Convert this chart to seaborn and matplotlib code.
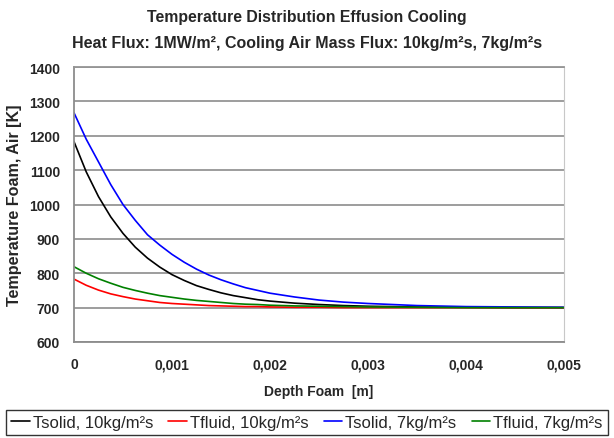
import numpy as np
import pandas as pd
import matplotlib
matplotlib.use("Agg")
import matplotlib.pyplot as plt
import seaborn as sns

# ==============================
#       Data
# ==============================

depth = [0, 0.000125, 0.00025, 0.000375, 0.0005, 0.000625, 0.00075, 0.000875,
         0.001, 0.001125, 0.00125, 0.001375, 0.0015, 0.001625, 0.00175, 0.001875,
         0.002, 0.00225, 0.0025, 0.00275, 0.003, 0.0035, 0.004, 0.0045, 0.005]

tsolid_10 = [1183, 1095, 1023, 964, 916, 876, 844, 818,
             796, 779, 764, 753, 743, 735, 729, 723,
             719, 713, 709, 706, 704, 702, 701, 700, 700]
tfluid_10 = [783, 765, 751, 740, 732, 725, 720, 715,
             712, 710, 708, 706, 705, 704, 703, 703,
             702, 701, 701, 700, 700, 700, 700, 700, 700]
tsolid_7 = [1267, 1190, 1124, 1058, 1000, 954, 912, 882,
            855, 832, 812, 795, 781, 769, 758, 750,
            742, 731, 722, 716, 712, 706, 703, 702, 701]
tfluid_7 = [819, 800, 784, 771, 759, 750, 742, 735,
            730, 725, 721, 718, 715, 712, 710, 709,
            707, 705, 704, 703, 702, 701, 700, 700, 700]

series_names = ["Tsolid, 10kg/m²s", "Tfluid, 10kg/m²s", "Tsolid, 7kg/m²s", "Tfluid, 7kg/m²s"]
series_colors = ["black", "red", "blue", "green"]

x_ticks = [0, 0.001, 0.002, 0.003, 0.004, 0.005]
x_tick_labels = ["0", "0,001", "0,002", "0,003", "0,004", "0,005"]
y_ticks = [600, 700, 800, 900, 1000, 1100, 1200, 1300, 1400]

# long-form table for seaborn
df = pd.concat([
    pd.DataFrame({"depth": depth, "temp": vals, "series": name})
    for name, vals in zip(series_names, [tsolid_10, tfluid_10, tsolid_7, tfluid_7])
], ignore_index=True)

# ==============================
#            Plot
# ==============================

sns.set_style("white")
plt.rcParams['font.family'] = ['Liberation Sans', 'DejaVu Sans']

fig = plt.figure(figsize=(6.14, 4.39), dpi=100)
ax = fig.add_axes([0.1205, 0.2187, 0.7981, 0.6263])

sns.lineplot(data=df, x="depth", y="temp", hue="series",
             palette=dict(zip(series_names, series_colors)),
             linewidth=1.2, ax=ax, legend=False)

ax.set_xlim(0, 0.005)
ax.set_ylim(600, 1400)
ax.set_xticks(x_ticks)
ax.set_xticklabels(x_tick_labels)
ax.set_yticks(y_ticks)
ax.yaxis.grid(True, color="#959595", linewidth=1.3)
ax.xaxis.grid(False)
ax.set_axisbelow(True)

for side in ["left", "bottom"]:
    ax.spines[side].set_color("#8c8c8c")
    ax.spines[side].set_linewidth(1.3)
ax.spines["right"].set_color("#c8c8c8")
ax.spines["top"].set_color("#959595")
ax.spines["top"].set_linewidth(1.3)

ax.tick_params(axis="both", direction="out", length=4, width=1.2,
               color="#8c8c8c", labelsize=10, pad=6)
ax.tick_params(axis="x", pad=7)
for lbl in ax.get_xticklabels() + ax.get_yticklabels():
    lbl.set_fontweight("bold")

ax.set_xlabel("Depth Foam  [m]", fontsize=10, fontweight="bold", labelpad=9)
ax.set_ylabel("Temperature Foam, Air [K]", fontsize=11.6, fontweight="bold", labelpad=5)

fig.text(0.5, 0.960, "Temperature Distribution Effusion Cooling",
         ha="center", va="center", fontsize=11.4, fontweight="bold")
fig.text(0.5, 0.901, "Heat Flux: 1MW/m², Cooling Air Mass Flux: 10kg/m²s, 7kg/m²s",
         ha="center", va="center", fontsize=11.5, fontweight="bold")

handles = [plt.Line2D([], [], color=c, linewidth=1.2) for c in series_colors]
leg = fig.legend(handles, series_names, loc="lower center", bbox_to_anchor=(0.5, 0.0),
                 ncol=4, fontsize=12, frameon=True, fancybox=False,
                 handlelength=1.1, handletextpad=0.2, columnspacing=0.9,
                 borderpad=0.3, borderaxespad=0.2)
leg.get_frame().set_edgecolor("black")
leg.get_frame().set_linewidth(1.0)

fig.savefig("out.png", dpi=100)
